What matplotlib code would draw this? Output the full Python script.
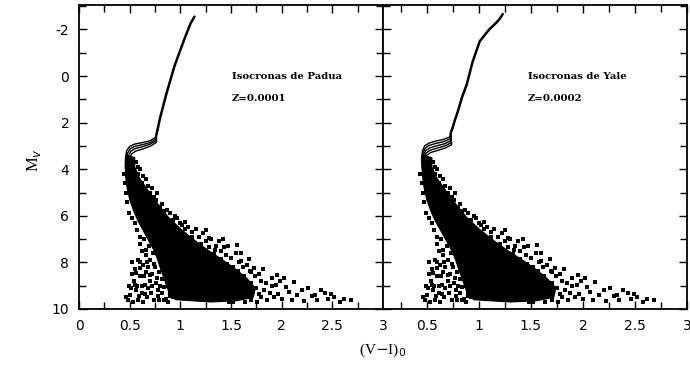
import numpy as np
import matplotlib
matplotlib.use("Agg")
import matplotlib.pyplot as plt
from matplotlib.ticker import MultipleLocator, FormatStrFormatter

# --- isocronas de Padua (Z=0.0001): rama gigante comun + subgigantes/SP
padua_rgb_c = [1.14, 1.10, 1.05, 0.99, 0.94, 0.90, 0.86, 0.83, 0.80, 0.78, 0.765]
padua_rgb_m = [-2.55, -2.25, -1.7, -1.0, -0.4, 0.2, 0.8, 1.3, 1.8, 2.2, 2.5]
padua_sgb_c = [
    [0.75, 0.70, 0.62, 0.55, 0.50, 0.47, 0.46, 0.465, 0.49, 0.54, 0.62, 0.74, 0.90, 1.10, 1.30],
    [0.755, 0.70, 0.62, 0.55, 0.505, 0.48, 0.47, 0.475, 0.50],
    [0.76, 0.70, 0.62, 0.55, 0.51, 0.49, 0.48, 0.485, 0.51],
    [0.765, 0.71, 0.63, 0.56, 0.52, 0.50, 0.49, 0.495, 0.52],
]
padua_sgb_m = [
    [2.65, 2.78, 2.86, 2.92, 3.02, 3.20, 3.50, 3.90, 4.50, 5.20, 5.90, 6.60, 7.30, 8.00, 8.70],
    [2.72, 2.86, 2.95, 3.02, 3.12, 3.30, 3.60, 4.00, 4.60],
    [2.78, 2.93, 3.04, 3.12, 3.23, 3.42, 3.72, 4.10, 4.70],
    [2.84, 3.00, 3.13, 3.22, 3.34, 3.54, 3.85, 4.20, 4.80],
]

# --- isocronas de Yale (Z=0.0002)
yale_rgb_c = [1.23, 1.20, 1.17, 1.10, 1.01, 0.94, 0.885, 0.84, 0.80, 0.77, 0.75, 0.73]
yale_rgb_m = [-2.66, -2.45, -2.3, -2.0, -1.5, -0.6, 0.35, 0.9, 1.5, 1.9, 2.2, 2.45]
yale_sgb_c = [
    [0.72, 0.66, 0.58, 0.52, 0.48, 0.46, 0.45, 0.455, 0.48, 0.53, 0.61, 0.73, 0.89, 1.09, 1.29],
    [0.725, 0.66, 0.58, 0.52, 0.485, 0.465, 0.455, 0.46, 0.49],
    [0.73, 0.67, 0.59, 0.53, 0.49, 0.47, 0.46, 0.465, 0.495],
    [0.735, 0.675, 0.595, 0.535, 0.495, 0.475, 0.465, 0.47, 0.50],
    [0.74, 0.68, 0.60, 0.54, 0.50, 0.48, 0.47, 0.475, 0.505],
]
yale_sgb_m = [
    [2.62, 2.72, 2.80, 2.88, 3.00, 3.20, 3.50, 3.90, 4.50, 5.20, 5.90, 6.60, 7.30, 8.00, 8.70],
    [2.70, 2.82, 2.90, 2.98, 3.10, 3.30, 3.60, 4.00, 4.60],
    [2.78, 2.91, 3.00, 3.08, 3.20, 3.40, 3.70, 4.10, 4.70],
    [2.86, 3.00, 3.10, 3.18, 3.30, 3.50, 3.80, 4.20, 4.80],
    [2.94, 3.09, 3.20, 3.28, 3.40, 3.60, 3.90, 4.30, 4.90],
]

# --- zona densa de la secuencia principal (contorno)
core_c = [0.46, 0.455, 0.46, 0.475, 0.50, 0.54, 0.58, 0.63, 0.68, 0.73, 0.77, 0.80, 0.84, 0.88,
          0.95, 1.30, 1.55, 1.72, 1.74, 1.66, 1.55, 1.42, 1.28, 1.14, 1.00, 0.88, 0.78, 0.68,
          0.60, 0.55, 0.55]
core_m = [3.40, 3.80, 4.30, 4.80, 5.30, 5.80, 6.20, 6.60, 7.00, 7.40, 7.80, 8.20, 8.70, 9.20,
          9.60, 9.70, 9.65, 9.50, 9.10, 8.70, 8.30, 7.90, 7.50, 7.05, 6.55, 6.05, 5.50, 4.90,
          4.40, 3.90, 3.50]

# --- estrellas dispersas alrededor de la zona densa
star_c = [0.44, 0.45, 0.46, 0.47, 0.49, 0.52, 0.55, 0.57, 0.60, 0.60, 0.62, 0.64, 0.66, 0.58,
          0.63, 0.55, 0.52, 0.54, 0.57, 0.60, 0.66, 0.70, 0.68, 0.62, 0.56, 0.50, 0.46, 0.48,
          0.53, 0.58, 0.63, 0.67, 0.71, 0.74, 0.72, 0.75, 0.70, 0.73, 0.69, 0.78, 0.82, 0.86,
          0.80, 0.77, 0.84, 0.90, 0.65, 0.79, 0.88, 0.93,
          0.52, 0.56, 0.60, 0.64, 0.68, 0.72, 0.76, 0.78, 0.82, 0.85, 0.88, 0.84, 0.90, 0.62,
          0.65, 0.59, 0.55, 0.51, 0.49, 0.60, 0.67, 0.74, 0.70, 0.79, 0.66, 0.71, 0.63, 0.58,
          0.52, 0.50, 0.48, 0.47,
          0.56, 0.58, 0.60, 0.63, 0.68, 0.72, 0.76, 0.82, 0.87, 0.95, 1.00, 1.05, 1.12, 1.20,
          1.28, 1.33, 1.40, 1.46, 1.52, 1.57, 1.63, 1.70, 1.75, 1.78,
          0.58, 0.62, 0.66, 0.70, 0.74, 0.77, 0.80, 0.84, 0.90, 0.93, 0.97, 1.02, 1.08, 1.12,
          1.18, 1.22, 1.25, 1.30, 1.35, 1.40, 1.38, 1.45, 1.50, 1.55, 1.58, 1.62, 1.66, 1.70,
          1.74, 1.78, 1.80, 1.85, 1.83, 1.88, 1.90, 1.92, 1.86, 1.80, 1.76, 1.70, 1.64, 1.48,
          1.52, 1.28, 1.15, 1.60, 1.69, 1.05, 1.34, 1.43,
          1.25, 1.42, 1.47, 1.56, 1.60, 1.68, 1.73, 1.82, 1.90, 1.95,
          1.98, 2.02, 2.07, 2.12, 2.15, 2.20, 2.26, 2.30, 2.35, 2.39, 2.43, 2.46, 2.52, 2.58,
          2.62, 2.68, 2.00, 2.10, 1.96, 2.22, 2.04, 2.33, 1.94, 2.49]
star_m = [4.20, 4.60, 5.00, 5.40, 5.90, 6.10, 6.30, 6.60, 6.90, 7.20, 7.50, 7.00, 7.70, 7.90,
          8.10, 8.30, 8.50, 8.80, 9.00, 8.60, 8.40, 8.80, 9.10, 9.30, 9.20, 9.40, 9.50, 9.60,
          9.70, 9.60, 9.70, 9.50, 9.30, 9.60, 8.50, 8.20, 7.90, 7.60, 7.30, 9.45, 9.30, 9.55,
          9.00, 8.65, 9.05, 9.45, 8.95, 9.60, 9.70, 9.50,
          8.00, 8.45, 8.00, 8.60, 8.20, 9.00, 8.90, 9.20, 8.70, 8.40, 9.00, 9.60, 9.30, 9.00,
          9.35, 9.45, 8.95, 9.10, 9.00, 8.25, 8.00, 8.05, 8.55, 8.40, 7.45, 7.10, 6.30, 5.70,
          5.00, 4.60, 4.10, 3.80,
          3.70, 3.90, 4.00, 4.30, 4.70, 4.80, 5.30, 5.50, 5.75, 6.00, 6.30, 6.55, 6.90, 7.20,
          7.35, 7.65, 7.85, 8.05, 8.20, 8.35, 8.60, 8.90, 9.10, 9.35,
          4.20, 4.60, 4.40, 5.00, 5.20, 5.00, 5.60, 5.80, 5.90, 6.20, 6.10, 6.40, 6.50, 6.70,
          6.90, 6.75, 7.10, 7.00, 7.30, 7.50, 7.10, 7.70, 7.80, 7.60, 8.00, 8.20, 8.10, 8.40,
          8.60, 8.50, 8.80, 8.90, 9.20, 9.30, 9.00, 9.50, 9.60, 9.50, 9.70, 9.62, 9.68, 9.70,
          9.68, 6.95, 6.55, 7.95, 8.35, 6.25, 7.45, 7.35,
          6.60, 7.00, 7.30, 7.25, 7.60, 7.85, 8.25, 8.30, 8.65, 8.55,
          8.80, 8.65, 9.25, 8.85, 9.40, 9.20, 9.10, 9.45, 9.60, 9.20, 9.30, 9.57, 9.50, 9.70,
          9.55, 9.62, 9.55, 9.60, 9.35, 9.65, 9.05, 9.40, 8.95, 9.35]

panels = [
    (padua_rgb_c, padua_rgb_m, padua_sgb_c, padua_sgb_m, "Isocronas de Padua", "Z=0.0001", (0.0, 3.0), 1.51),
    (yale_rgb_c, yale_rgb_m, yale_sgb_c, yale_sgb_m, "Isocronas de Yale", "Z=0.0002", (0.08, 3.0), 1.47),
]

fig = plt.figure(figsize=(6.9, 3.65), dpi=100)
boxes = [[79 / 690, 1 - 309 / 365, 304 / 690, 304 / 365],
         [383 / 690, 1 - 309 / 365, 304 / 690, 304 / 365]]

for i, (rc, rm, sc, sm, titulo, zlab, xlim, xtxt) in enumerate(panels):
    ax = fig.add_axes(boxes[i])
    ax.fill(core_c, core_m, color="black", lw=0.8, zorder=2)
    ax.plot(star_c, star_m, "s", color="black", ms=2.2, mew=0, zorder=3)
    ax.plot(rc, rm, color="black", lw=1.8, zorder=4, solid_capstyle="round")
    for c, m in zip(sc, sm):
        ax.plot(rc[-2:] + c, rm[-2:] + m, color="black", lw=1.0, zorder=4, solid_capstyle="butt")
    ax.text(xtxt, 0.0, titulo, fontsize=7.3, family="DejaVu Serif", weight="bold", va="center")
    ax.text(xtxt, 0.95, zlab, fontsize=7.3, family="DejaVu Serif", weight="bold", va="center")

    ax.set_xlim(*xlim)
    ax.set_ylim(10, -3.05)
    ax.xaxis.set_major_locator(MultipleLocator(0.5))
    ax.xaxis.set_minor_locator(MultipleLocator(0.25))
    ax.yaxis.set_major_locator(MultipleLocator(2))
    ax.yaxis.set_minor_locator(MultipleLocator(1))
    ax.xaxis.set_major_formatter(FormatStrFormatter("%g"))
    ax.tick_params(which="both", direction="in", top=True, right=True, width=1.0,
                   labelsize=10, pad=7)
    ax.tick_params(which="major", length=6)
    ax.tick_params(which="minor", length=5)
    for s in ax.spines.values():
        s.set_linewidth(1.3)
    if i == 0:
        ax.set_ylabel(r"M$_v$", family="Liberation Serif", fontsize=12)
        ax.yaxis.set_label_coords(-36 / 304, 0.49)
        ax.yaxis.set_major_formatter(FormatStrFormatter("%g"))
    else:
        ax.set_yticklabels([])
        ax.set_xticks([0.5, 1, 1.5, 2, 2.5, 3])

fig.text(383 / 690, 1 - 350 / 365, r"(V$-$I)$_0$", family="Liberation Serif", fontsize=11,
         ha="center", va="center")

fig.savefig("out.png", dpi=100)
